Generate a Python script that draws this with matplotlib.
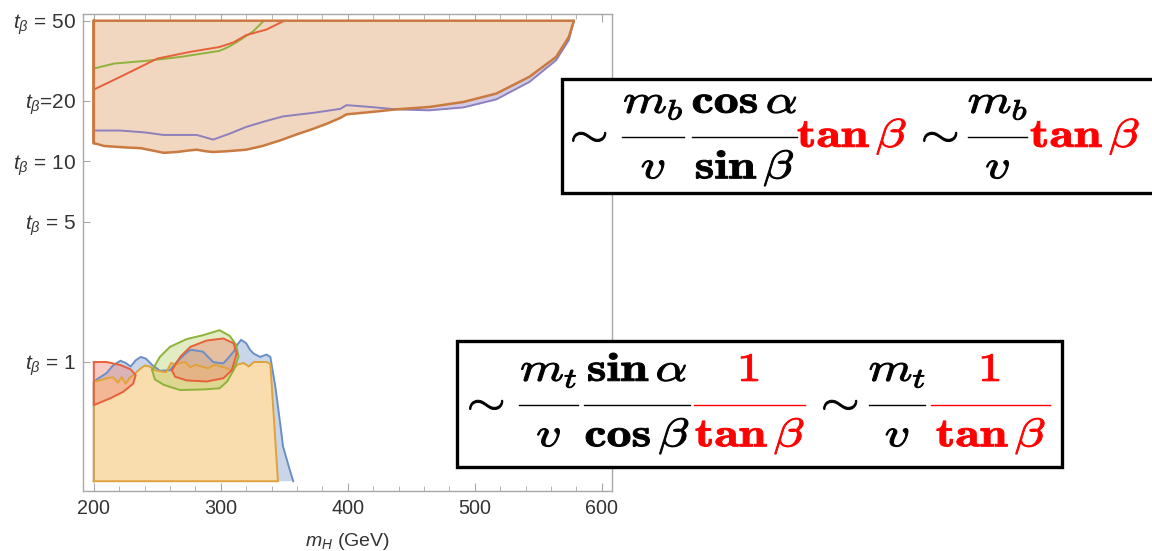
import matplotlib
matplotlib.use("Agg")
import matplotlib.pyplot as plt
from matplotlib.patches import Rectangle, PathPatch
from matplotlib.lines import Line2D
from matplotlib.textpath import TextPath
from matplotlib.font_manager import FontProperties
from matplotlib.transforms import Affine2D
from matplotlib.ticker import FixedLocator, MultipleLocator, NullLocator

plt.rcParams['font.family'] = ['Liberation Sans', 'DejaVu Sans']
plt.rcParams['mathtext.fontset'] = 'custom'
plt.rcParams['mathtext.it'] = 'Liberation Sans:italic'
plt.rcParams['mathtext.rm'] = 'Liberation Sans'
plt.rcParams['mathtext.sf'] = 'Liberation Sans'

# --- data (m_H in GeV, tan beta) ---
x_ticks = [200, 300, 400, 500, 600]
y_ticks = [1, 5, 10, 20, 50]
y_labels = [r"$t_\beta$ = 1", r"$t_\beta$ = 5", r"$t_\beta$ = 10", r"$t_\beta$=20", r"$t_\beta$ = 50"]

t_top = 50
t_base = 0.255

# high tan(beta) region, lower edge (orange)
hi_low_x = [200, 208, 216, 225, 237, 246, 255, 265, 275, 281, 288, 294, 305, 320, 333, 347, 360, 373,
            384, 394, 399, 420, 438, 464, 491, 517, 543, 564, 574, 578]
hi_low_t = [12.3, 11.9, 11.8, 11.7, 11.6, 11.3, 11.0, 11.1, 11.3, 11.4, 11.2, 11.1, 11.2, 11.4, 11.9, 12.7,
            13.6, 14.5, 15.4, 16.4, 17.1, 17.6, 18.1, 18.6, 19.7, 21.7, 26.3, 33.0, 41.5, 50]
# purple
pur_x = [200, 221, 240, 255, 281, 294, 307, 320, 335, 349, 373, 394, 399, 418, 438, 464, 491, 517, 543,
         564, 574, 578]
pur_t = [14.2, 14.2, 13.9, 13.5, 13.5, 12.8, 13.7, 14.8, 15.8, 16.7, 17.4, 18.2, 19.0, 18.6, 18.1, 17.9,
         18.5, 20.3, 24.8, 31.8, 40.0, 50]
# green
grn_x = [200, 216, 242, 268, 299, 306, 315, 325, 334]
grn_t = [28.9, 30.6, 31.6, 33.0, 35.4, 37.0, 40.0, 44.0, 50]
# red
red_x = [200, 221, 250, 276, 299, 310, 320, 336, 350]
red_t = [22.7, 26.3, 32.4, 35.0, 37.0, 39.0, 42.4, 45.2, 50]

# low tan(beta) region
org_x = [200, 205, 210, 215, 219, 222, 225, 228, 232, 236, 240, 244, 248, 252, 257, 261, 264, 268, 272,
         276, 280, 285, 290, 295, 300, 305, 309, 313, 318, 322, 326, 331, 336, 339, 345]
org_t = [0.80, 0.81, 0.83, 0.84, 0.79, 0.84, 0.78, 0.83, 0.87, 0.92, 0.96, 0.95, 0.91, 0.90, 0.89, 0.99,
         0.97, 0.99, 1.00, 0.94, 0.97, 0.95, 0.93, 0.97, 0.95, 0.93, 0.90, 0.97, 0.99, 0.95, 1.00, 1.00,
         1.00, 0.98, 0.255]
blu_x = [200, 205, 210, 215, 221, 225, 229, 233, 237, 241, 246, 252, 260, 264, 268, 272, 276, 281, 286,
         290, 294, 298, 302, 306, 310, 313, 316, 320, 323, 326, 331, 336, 339, 343, 347, 349, 353, 357]
blu_t = [0.80, 0.84, 0.88, 0.96, 1.015, 0.99, 0.95, 1.02, 1.06, 1.04, 0.966, 0.905, 0.91, 0.98, 1.04,
         1.10, 1.15, 1.14, 1.125, 1.06, 1.0, 0.99, 0.985, 1.05, 1.125, 1.22, 1.29, 1.24, 1.15, 1.10, 1.06,
         1.09, 1.06, 0.75, 0.48, 0.38, 0.31, 0.255]
red1_x = [200, 210, 221, 229, 233, 231, 223, 213, 200]
red1_t = [1.0, 1.0, 0.966, 0.92, 0.86, 0.78, 0.71, 0.66, 0.61]
grn2_x = [246, 252, 260, 273, 286, 299, 307, 312, 314, 310, 305, 299, 286, 268, 255, 248]
grn2_t = [0.91, 1.06, 1.19, 1.30, 1.36, 1.44, 1.35, 1.22, 1.06, 0.91, 0.80, 0.74, 0.73, 0.725, 0.77, 0.82]
red2_x = [261.5, 268, 276, 289, 302, 310, 312.5, 308.6, 302, 289, 273, 264]
red2_t = [0.91, 1.06, 1.19, 1.28, 1.31, 1.24, 1.10, 0.91, 0.83, 0.80, 0.81, 0.845]

# formula pieces: ('sym', text, colour, left px) or ('frac', num, den, colour, bar from px, bar to px)
box1 = [('sym', r"$\sim$", 'black', 561),
        ('frac', r"$m_b$", r"$v$", 'black', 622, 684),
        ('frac', r"$\mathbf{cos}\,\alpha$", r"$\mathbf{sin}\,\beta$", 'black', 692, 797),
        ('sym', r"$\mathbf{tan}\,\beta$", 'red', 797),
        ('sym', r"$\sim$", 'black', 912),
        ('frac', r"$m_b$", r"$v$", 'black', 968, 1027),
        ('sym', r"$\mathbf{tan}\,\beta$", 'red', 1030)]
box2 = [('sym', r"$\sim$", 'black', 458),
        ('frac', r"$m_t$", r"$v$", 'black', 519, 578),
        ('frac', r"$\mathbf{sin}\,\alpha$", r"$\mathbf{cos}\,\beta$", 'black', 584, 690),
        ('frac', r"$\mathbf{1}$", r"$\mathbf{tan}\,\beta$", 'red', 694, 805),
        ('sym', r"$\sim$", 'black', 812),
        ('frac', r"$m_t$", r"$v$", 'black', 869, 925),
        ('frac', r"$\mathbf{1}$", r"$\mathbf{tan}\,\beta$", 'red', 931, 1050)]

# colours
c_edge_hi = '#c97a40'
c_fill_hi = '#f1d6c0'
c_pur = '#8c80bd'
c_pur_fill = '#d3cbe6'
c_grn = '#8fb23a'
c_red = '#e8603a'
c_blu = '#6a8fc6'
c_blu_fill = '#c9d6ea'
c_org = '#e0a23a'
c_org_fill = '#f9ddae'

W, H = 1152, 551
fig = plt.figure(figsize=(W / 100, H / 100), dpi=100)
ax = fig.add_axes([83 / W, 1 - 491 / H, (612 - 83) / W, (491 - 14) / H])
ax.set_yscale('log')
ax.set_xlim(191.5, 608)
ax.set_ylim(0.228, 54)

# upper region
ax.fill(pur_x + [200], pur_t + [t_top], color=c_pur_fill, lw=0, zorder=1)
ax.fill(hi_low_x + [200], hi_low_t + [t_top], color=c_fill_hi, lw=0, zorder=2)
ax.plot(pur_x, pur_t, color=c_pur, lw=1.4, zorder=3)
ax.plot(grn_x, grn_t, color=c_grn, lw=1.4, zorder=3)
ax.plot(red_x, red_t, color=c_red, lw=1.4, zorder=3)
ax.plot([200] + hi_low_x + [200, 200], [t_top] + hi_low_t + [t_top, hi_low_t[0]],
        color=c_edge_hi, lw=1.8, zorder=4)

# lower region
ax.fill([200] + blu_x, [t_base] + blu_t, color=c_blu_fill, lw=0, zorder=1)
ax.fill([200] + org_x, [t_base] + org_t, color=c_org_fill, lw=0, zorder=2)
ax.fill(grn2_x, grn2_t, color='#b5d06a', alpha=0.4, lw=0, zorder=2.5)
ax.fill(red1_x, red1_t, color='#ee8a78', alpha=0.45, lw=0, zorder=2.6)
ax.fill(red2_x, red2_t, color='#ee8a78', alpha=0.45, lw=0, zorder=2.6)
ax.plot([200] + blu_x, [t_base] + blu_t, color=c_blu, lw=1.4, zorder=3)
ax.plot([200] + org_x + [200], [t_base] + org_t + [t_base], color=c_org, lw=1.4, zorder=3.1)
ax.plot(grn2_x + grn2_x[:1], grn2_t + grn2_t[:1], color=c_grn, lw=1.4, zorder=3.2)
ax.plot(red1_x + red1_x[:1], red1_t + red1_t[:1], color=c_red, lw=1.4, zorder=3.3)
ax.plot(red2_x + red2_x[:1], red2_t + red2_t[:1], color=c_red, lw=1.4, zorder=3.3)

# axes styling
for s in ax.spines.values():
    s.set_color('#a8a8a8')
    s.set_linewidth(1.0)
ax.xaxis.set_major_locator(FixedLocator(x_ticks))
ax.xaxis.set_minor_locator(MultipleLocator(20))
ax.set_yticks(y_ticks)
ax.set_yticklabels(y_labels)
ax.yaxis.set_minor_locator(NullLocator())
ax.tick_params(axis='x', which='both', direction='in', top=True, bottom=True,
               color='#a8a8a8', labelcolor='#333333', labelsize=14.2, pad=6)
ax.tick_params(axis='x', which='major', length=6)
ax.tick_params(axis='x', which='minor', length=3.5)
ax.tick_params(axis='y', which='major', direction='in', left=True, right=False, length=5,
               color='#a8a8a8', labelcolor='#333333', labelsize=15, pad=5)
ax.set_xlabel(r"$m_H$ (GeV)", fontsize=14, color='#333333', labelpad=9)

# formula boxes (pixel coordinates, y measured from the top)
EM = 40      # font size in pixels
SX = 1.25    # the slide text is stretched horizontally
fp = FontProperties(family='DejaVu Serif', math_fontfamily='cm')
to_fig = Affine2D().scale(1 / W, 1 / H) + fig.transFigure


def put(s, x, y, color, center=False):
    tp = TextPath((0, 0), s, size=EM, prop=fp)
    ext = tp.get_extents()
    if center:
        x = x - (ext.x0 + ext.x1) / 2 * SX
    tr = Affine2D().scale(SX, 1).translate(x, H - y) + to_fig
    fig.add_artist(PathPatch(tp, transform=tr, facecolor=color, edgecolor=color, lw=0.7, zorder=3))


def draw_box(x0, y0, x1, y1):
    fig.add_artist(Rectangle((x0 / W, 1 - y1 / H), (x1 - x0) / W, (y1 - y0) / H,
                             transform=fig.transFigure, facecolor='white',
                             edgecolor='black', lw=2.4, zorder=1))


def draw_formula(items, bar_y):
    base = bar_y + 0.25 * EM
    for it in items:
        if it[0] == 'sym':
            put(it[1], it[3], base, it[2])
        else:
            _, num, den, c, xa, xb = it
            xc = (xa + xb) / 2
            put(num, xc, bar_y - 24, c, center=True)
            put(den, xc, bar_y + 41.5, c, center=True)
            fig.add_artist(Line2D([xa / W, xb / W], [1 - bar_y / H] * 2, color=c, lw=1.0,
                                  transform=fig.transFigure, zorder=3))


draw_box(562, 79, 1165, 193)
draw_box(457, 341, 1062, 467)
draw_formula(box1, 137)
draw_formula(box2, 405)

fig.savefig("out.png", dpi=100)
